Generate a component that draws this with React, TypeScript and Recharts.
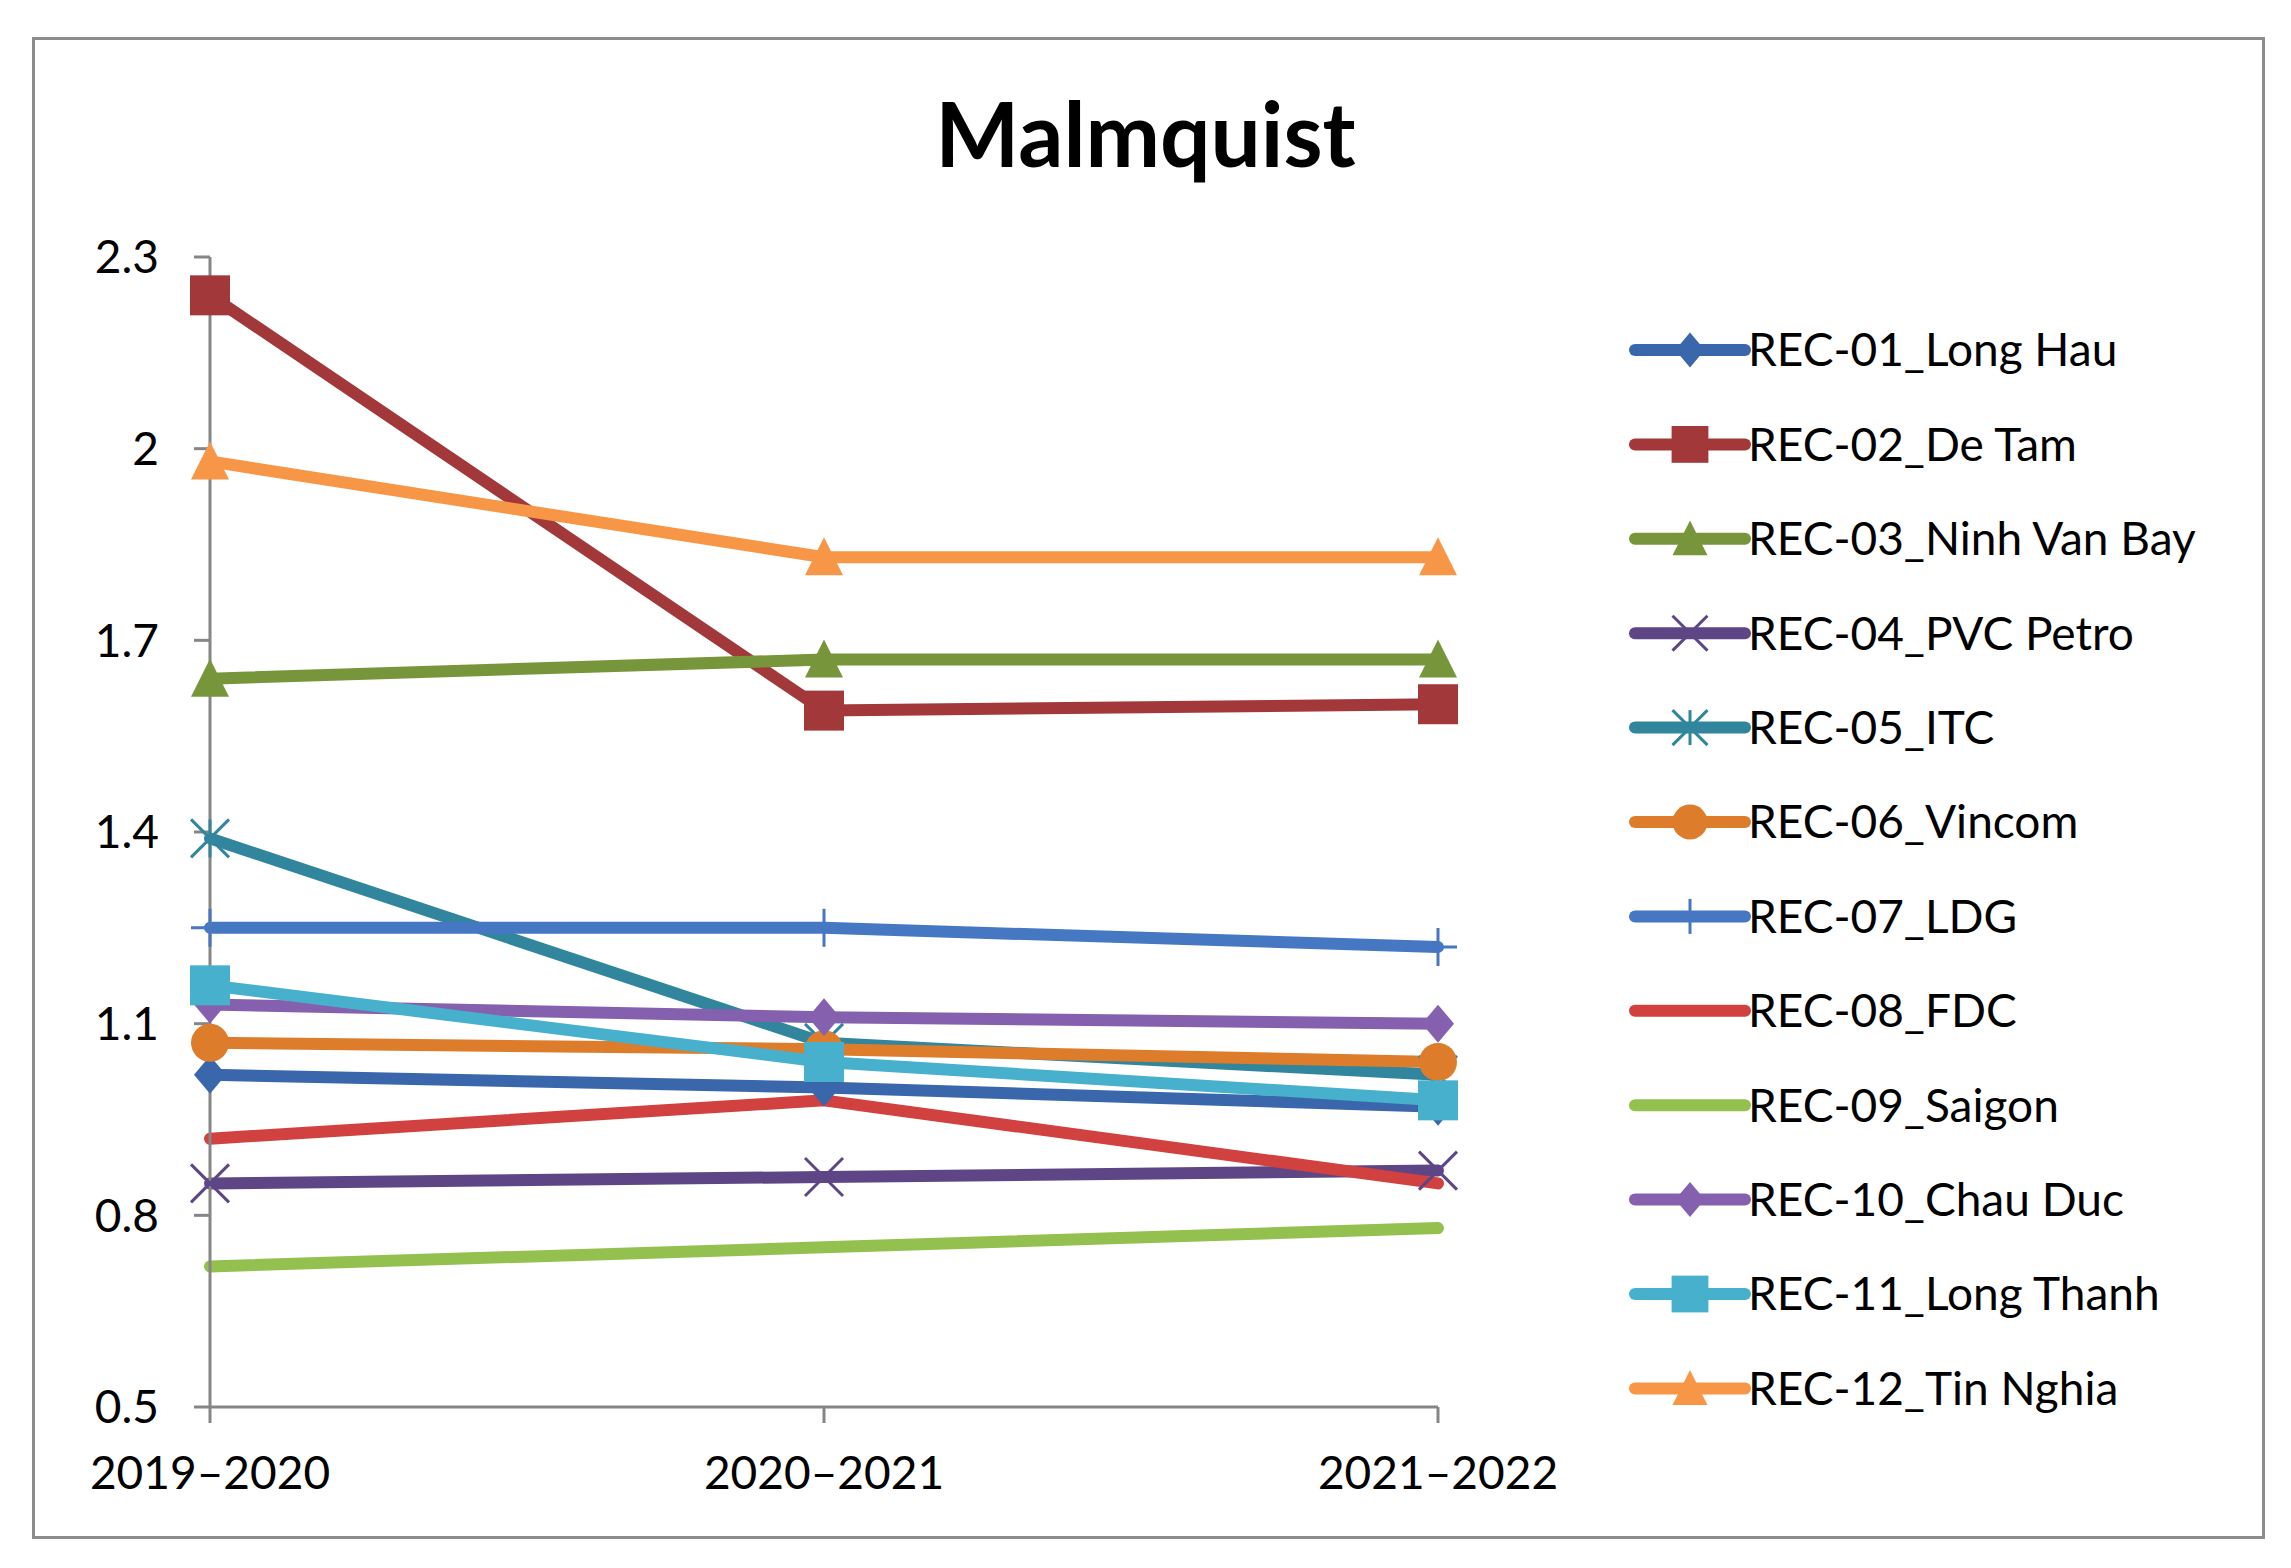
import React from 'react';
import { LineChart, Line, XAxis, YAxis, Legend } from 'recharts';

const periods = ['2019–2020', '2020–2021', '2021–2022'];

const yTicks = [0.5, 0.8, 1.1, 1.4, 1.7, 2, 2.3];

const rec01 = [1.02, 1.0, 0.97];
const rec02 = [2.24, 1.59, 1.6];
const rec03 = [1.64, 1.67, 1.67];
const rec04 = [0.85, 0.86, 0.87];
const rec05 = [1.39, 1.07, 1.02];
const rec06 = [1.07, 1.06, 1.04];
const rec07 = [1.25, 1.25, 1.22];
const rec08 = [0.92, 0.98, 0.85];
const rec09 = [0.72, 0.75, 0.78];
const rec10 = [1.13, 1.11, 1.1];
const rec11 = [1.16, 1.04, 0.98];
const rec12 = [1.98, 1.83, 1.83];

type Shape = 'diamond' | 'square' | 'triangle' | 'x' | 'star' | 'circle' | 'plus' | 'none';

const series: { key: string; name: string; color: string; shape: Shape; values: number[] }[] = [
  { key: 'r01', name: 'REC-01_Long Hau', color: '#3a67ab', shape: 'diamond', values: rec01 },
  { key: 'r02', name: 'REC-02_De Tam', color: '#a3383a', shape: 'square', values: rec02 },
  { key: 'r03', name: 'REC-03_Ninh Van Bay', color: '#77963b', shape: 'triangle', values: rec03 },
  { key: 'r04', name: 'REC-04_PVC Petro', color: '#5e4586', shape: 'x', values: rec04 },
  { key: 'r05', name: 'REC-05_ITC', color: '#31869e', shape: 'star', values: rec05 },
  { key: 'r06', name: 'REC-06_Vincom', color: '#dd7d2b', shape: 'circle', values: rec06 },
  { key: 'r07', name: 'REC-07_LDG', color: '#4677c3', shape: 'plus', values: rec07 },
  { key: 'r08', name: 'REC-08_FDC', color: '#d0413f', shape: 'none', values: rec08 },
  { key: 'r09', name: 'REC-09_Saigon', color: '#94c04f', shape: 'none', values: rec09 },
  { key: 'r10', name: 'REC-10_Chau Duc', color: '#8560ae', shape: 'diamond', values: rec10 },
  { key: 'r11', name: 'REC-11_Long Thanh', color: '#47b0cc', shape: 'square', values: rec11 },
  { key: 'r12', name: 'REC-12_Tin Nghia', color: '#f79646', shape: 'triangle', values: rec12 },
];

const data = periods.map((p, i) => {
  const row: Record<string, any> = { period: p };
  series.forEach((s) => { row[s.key] = s.values[i]; });
  return row;
});

const FONT = 'Lato, "Open Sans", sans-serif';
const AXIS = '#868686';

const Marker = ({ shape, color, cx, cy, k = 1 }: { shape: Shape; color: string; cx: number; cy: number; k?: number }) => {
  const s = 19 * k;
  switch (shape) {
    case 'diamond':
      return <polygon points={`${cx},${cy - 19 * k} ${cx + 16 * k},${cy} ${cx},${cy + 19 * k} ${cx - 16 * k},${cy}`} fill={color} />;
    case 'square':
      return <rect x={cx - 20 * k} y={cy - 20 * k} width={40 * k} height={40 * k} fill={color} />;
    case 'triangle':
      return <polygon points={`${cx},${cy - 20 * k} ${cx + 19 * k},${cy + 18 * k} ${cx - 19 * k},${cy + 18 * k}`} fill={color} />;
    case 'circle':
      return <circle cx={cx} cy={cy} r={19 * k} fill={color} />;
    case 'x':
      return (
        <g stroke={color} strokeWidth={3}>
          <line x1={cx - s} y1={cy - s} x2={cx + s} y2={cy + s} />
          <line x1={cx - s} y1={cy + s} x2={cx + s} y2={cy - s} />
        </g>
      );
    case 'star':
      return (
        <g stroke={color} strokeWidth={3}>
          <line x1={cx - s} y1={cy - s} x2={cx + s} y2={cy + s} />
          <line x1={cx - s} y1={cy + s} x2={cx + s} y2={cy - s} />
          <line x1={cx} y1={cy - s} x2={cx} y2={cy + s} />
        </g>
      );
    case 'plus':
      return (
        <g stroke={color} strokeWidth={3}>
          <line x1={cx - s} y1={cy} x2={cx + s} y2={cy} />
          <line x1={cx} y1={cy - s} x2={cx} y2={cy + s} />
        </g>
      );
    default:
      return null;
  }
};

const dotFor = (shape: Shape, color: string) => (p: any) => {
  const { cx, cy, index } = p;
  if (cx == null || cy == null) return <g key={index} />;
  return (
    <g key={index}>
      <Marker shape={shape} color={color} cx={cx} cy={cy} />
    </g>
  );
};

const LegendBox = () => (
  <svg width={660} height={1140}>
    {series.map((s, i) => {
      const y = 50 + i * 94.4;
      return (
        <g key={s.key}>
          <line x1={15} y1={y} x2={125} y2={y} stroke={s.color} strokeWidth={12} strokeLinecap="round" />
          <Marker shape={s.shape} color={s.color} cx={70} cy={y} k={0.92} />
          <text x={128} y={y} dy="0.355em" fontSize={46} fontFamily={FONT} fill="#000">
            {s.name}
          </text>
        </g>
      );
    })}
  </svg>
);

export default function App() {
  return (
    <div style={{ position: 'absolute', left: 0, top: 0, width: 2291, height: 1568, background: '#fff' }}>
      <div
        style={{
          position: 'absolute', left: 32, top: 37, width: 2227, height: 1496,
          border: '3px solid #8c8c8c',
        }}
      />
      <div
        style={{
          position: 'absolute', left: 0, top: 88, width: 2291, textAlign: 'center',
          fontFamily: FONT, fontWeight: 700, fontSize: 89, lineHeight: '89px', color: '#000',
        }}
      >
        Malmquist
      </div>
      <div style={{ position: 'absolute', left: 0, top: 0 }}>
        <LineChart
          width={2291}
          height={1568}
          data={data}
          margin={{ top: 257, right: 853, bottom: 61, left: 90 }}
        >
          <XAxis
            dataKey="period"
            height={100}
            stroke={AXIS}
            strokeWidth={3}
            tickSize={16}
            tickMargin={33}
            interval={0}
            padding={{ left: 0, right: 0 }}
            tick={{ fill: '#000', fontSize: 46, fontFamily: FONT }}
          />
          <YAxis
            type="number"
            width={120}
            domain={[0.5, 2.3]}
            ticks={yTicks}
            allowDataOverflow
            stroke={AXIS}
            strokeWidth={3}
            tickSize={16}
            tickMargin={35}
            tickFormatter={(v: number) => String(+v.toFixed(1))}
            tick={{ fill: '#000', fontSize: 46, fontFamily: FONT }}
          />
          <Legend
            layout="vertical"
            align="center"
            verticalAlign="middle"
            wrapperStyle={{ left: 1620, top: 300, width: 660, height: 1140 }}
            content={() => <LegendBox />}
          />
          {series.map((s) => (
            <Line
              key={s.key}
              type="linear"
              dataKey={s.key}
              name={s.name}
              stroke={s.color}
              strokeWidth={12}
              strokeLinecap="round"
              strokeLinejoin="round"
              dot={s.shape === 'none' ? false : dotFor(s.shape, s.color)}
              activeDot={false}
              isAnimationActive={false}
            />
          ))}
        </LineChart>
      </div>
    </div>
  );
}
